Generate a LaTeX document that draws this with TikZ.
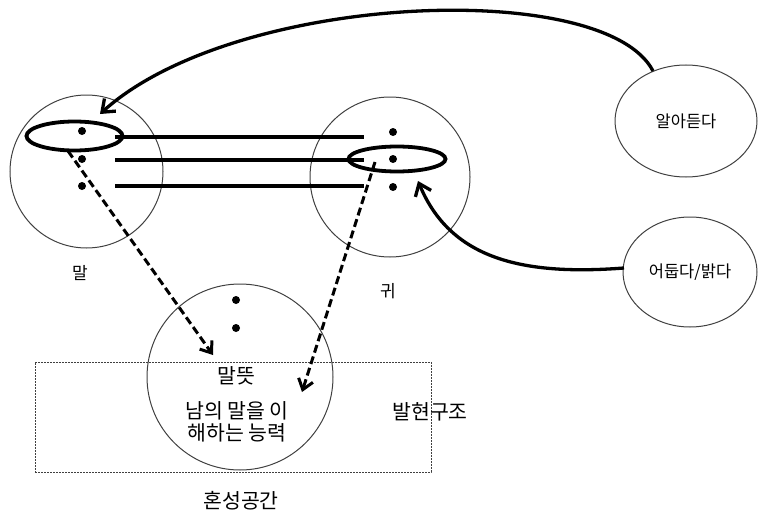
\documentclass[tikz,border=0pt]{standalone}
\usepackage{fontspec}
\setmainfont{Noto Sans CJK KR}
\usetikzlibrary{shapes.geometric,arrows.meta}
\begin{document}
\begin{tikzpicture}[x=1pt,y=-1pt,
  bigcirc/.style={circle,draw=black!75,line width=1pt,inner sep=0pt},
  ring/.style={ellipse,draw=black,line width=3.8pt,inner sep=0pt},
  bubble/.style={ellipse,draw=black!75,line width=1pt,inner sep=0pt,font=\fontsize{16.5}{19}\selectfont},
  dotn/.style={circle,fill=black,inner sep=0pt,minimum size=8pt},
  lbl/.style={font=\fontsize{17}{19}\selectfont},
  txt/.style={font=\fontsize{20.5}{24}\selectfont,align=center},
  link/.style={line width=3.2pt},
  arr/.style={line width=3.3pt,-{Straight Barb[length=11pt,width=17pt,line width=3.3pt]}},
  darr/.style={line width=3pt,dash pattern=on 8pt off 4pt,-{Straight Barb[length=10pt,width=15pt,line width=3pt]}},
  box/.style={draw=black!75,line width=0.8pt,dash pattern=on 2pt off 1pt}]
\useasboundingbox (0,0) rectangle (760,519);
% big circles
\node[bigcirc,minimum size=153pt] (mal) at (86.5,171.5) {};
\node[bigcirc,minimum size=160pt] (gwi) at (390,177) {};
\node[bigcirc,minimum size=186pt] (tteut) at (240,377) {};
% dashed frame
\node[box,minimum width=396pt,minimum height=110pt,inner sep=0pt] (frame) at (233,417) {};
% dots
\node[dotn] (m1) at (82,131) {};
\node[dotn] (m2) at (82,159) {};
\node[dotn] (m3) at (82,186) {};
\node[dotn] (g1) at (393,132) {};
\node[dotn] (g2) at (393,159) {};
\node[dotn] (g3) at (393,187) {};
\node[dotn] (t1) at (236,300) {};
\node[dotn] (t2) at (236,328) {};
% rings
\node[ring,minimum width=96pt,minimum height=29pt] (mring) at (74.5,136) {};
\node[ring,minimum width=97pt,minimum height=25pt] (gring) at (397,159) {};
% horizontal links
\coordinate (a1) at (115,137); \coordinate (b1) at (364,137);
\coordinate (a2) at (115,160); \coordinate (b2) at (364,160);
\coordinate (a3) at (115,186); \coordinate (b3) at (364,186);
\draw[link] (a1) -- (b1);
\draw[link] (a2) -- (b2);
\draw[link] (a3) -- (b3);
% bubbles
\node[bubble,minimum width=142pt,minimum height=112pt] (aladeut) at (686,121) {알아듣다};
\node[bubble,minimum width=134pt,minimum height=110pt] (eodup) at (690,272) {어둡다/밝다};
% labels
\node[lbl] (lmal) at (80,273) {말};
\node[lbl] (lgwi) at (388,291) {귀};
\node[txt] (tmal) at (236,376) {말뜻};
\node[txt] (tcap) at (237,422) {남의 말을 이\\[-2pt]해하는 능력};
\node[txt] (tbal) at (430,412) {발현구조};
\node[txt] (thon) at (241,501) {혼성공간};
% arrows
\coordinate (s1) at (653,71);
\coordinate (e1) at (100,114);
\draw[arr] (s1) .. controls (605,-22) and (235,-8) .. (e1);
\coordinate (s2) at (624,268);
\coordinate (e2) at (418,181);
\draw[arr] (s2) .. controls (520,276) and (450,258) .. (e2);
\coordinate (d1s) at (68,151);
\coordinate (d1e) at (213,355);
\draw[darr] (d1s) -- (d1e);
\coordinate (d2s) at (375,162);
\coordinate (d2e) at (302,392);
\draw[darr] (d2s) -- (d2e);
\end{tikzpicture}
\end{document}
